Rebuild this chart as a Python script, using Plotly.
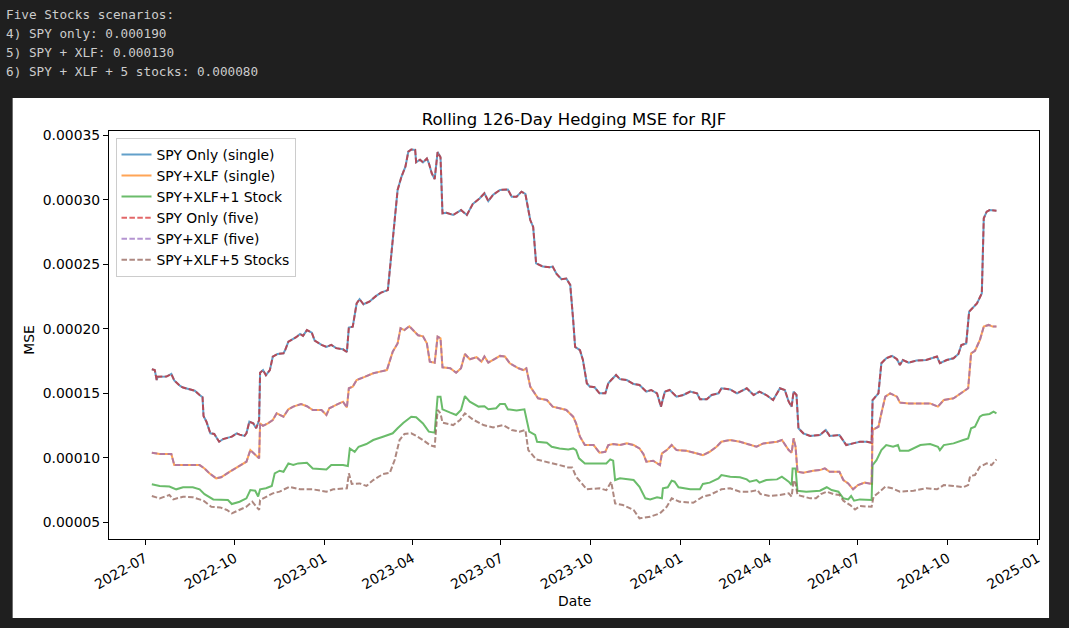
import numpy as np
import plotly.graph_objects as go

# values, in units of 1e-5
spy_dates = [
    "2022-07-08", "2022-07-11", "2022-07-13", "2022-07-14", "2022-07-23", "2022-07-28", "2022-07-31",
    "2022-08-06", "2022-08-09", "2022-08-21", "2022-08-26", "2022-08-29", "2022-08-30", "2022-09-02",
    "2022-09-06", "2022-09-10", "2022-09-15", "2022-09-19", "2022-09-28", "2022-10-03", "2022-10-06",
    "2022-10-11", "2022-10-13", "2022-10-16", "2022-10-20", "2022-10-23", "2022-10-26", "2022-10-27",
    "2022-10-30", "2022-11-02", "2022-11-06", "2022-11-09", "2022-11-14", "2022-11-20", "2022-11-22",
    "2022-11-25", "2022-12-03", "2022-12-07", "2022-12-10", "2022-12-14", "2022-12-19", "2022-12-22",
    "2022-12-29", "2023-01-03", "2023-01-08", "2023-01-13", "2023-01-20", "2023-01-24", "2023-01-26",
    "2023-01-30", "2023-02-03", "2023-02-06", "2023-02-10", "2023-02-16", "2023-02-23", "2023-02-28",
    "2023-03-07", "2023-03-09", "2023-03-12", "2023-03-15", "2023-03-17", "2023-03-21", "2023-03-25",
    "2023-03-28", "2023-03-31", "2023-04-04", "2023-04-05", "2023-04-09", "2023-04-12", "2023-04-16",
    "2023-04-18", "2023-04-21", "2023-04-24", "2023-04-27", "2023-04-30", "2023-05-02", "2023-05-06",
    "2023-05-13", "2023-05-21", "2023-05-27", "2023-06-02", "2023-06-09", "2023-06-14", "2023-06-18",
    "2023-06-23", "2023-06-30", "2023-07-08", "2023-07-12", "2023-07-17", "2023-07-22", "2023-07-26",
    "2023-07-31", "2023-08-03", "2023-08-06", "2023-08-13", "2023-08-20", "2023-08-23", "2023-08-27",
    "2023-09-01", "2023-09-06", "2023-09-10", "2023-09-13", "2023-09-15", "2023-09-20", "2023-09-23",
    "2023-09-27", "2023-09-30", "2023-10-05", "2023-10-10", "2023-10-16", "2023-10-19", "2023-10-22",
    "2023-10-27", "2023-10-31", "2023-11-07", "2023-11-14", "2023-11-20", "2023-11-27", "2023-12-02",
    "2023-12-08", "2023-12-12", "2023-12-16", "2023-12-21", "2023-12-28", "2024-01-04", "2024-01-11",
    "2024-01-18", "2024-01-21", "2024-01-28", "2024-02-02", "2024-02-09", "2024-02-12", "2024-02-21",
    "2024-02-28", "2024-03-09", "2024-03-16", "2024-03-22", "2024-03-29", "2024-04-05", "2024-04-12",
    "2024-04-17", "2024-04-21", "2024-04-24", "2024-04-26", "2024-04-29", "2024-05-01", "2024-05-06",
    "2024-05-13", "2024-05-23", "2024-05-29", "2024-06-02", "2024-06-12", "2024-06-19", "2024-06-26",
    "2024-07-03", "2024-07-10", "2024-07-15", "2024-07-16", "2024-07-22", "2024-07-25", "2024-07-30",
    "2024-08-05", "2024-08-10", "2024-08-13", "2024-08-16", "2024-08-22", "2024-08-30", "2024-09-09",
    "2024-09-20", "2024-09-23", "2024-09-30", "2024-10-07", "2024-10-12", "2024-10-15", "2024-10-20",
    "2024-10-23", "2024-10-26", "2024-10-31", "2024-11-05", "2024-11-07", "2024-11-10", "2024-11-13",
    "2024-11-20",
]
spy_vals = [
    16.86, 16.8, 16.03, 16.29, 16.3, 16.5, 16.0,
    15.57, 15.45, 15.2, 14.87, 14.7, 13.24, 12.8,
    11.9, 11.85, 11.25, 11.45, 11.64, 11.9, 11.8,
    11.7, 11.9, 12.8, 12.67, 12.29, 12.93, 16.6,
    16.8, 16.4, 16.8, 17.84, 18.05, 18.1, 18.4,
    19.0, 19.35, 19.6, 19.45, 19.9, 19.7, 19.08,
    18.75, 18.6, 18.75, 18.5, 18.41, 18.2, 20.1,
    20.17, 21.97, 22.3, 21.9, 22.1, 22.55, 22.8,
    23.0, 24.56, 26.6, 29.08, 30.76, 31.8, 32.57,
    33.73, 33.9, 33.87, 32.9, 33.1, 32.9, 33.2,
    32.85, 32.05, 31.6, 33.7, 33.3, 28.95, 29.0,
    28.82, 29.2, 28.82, 29.67, 30.1, 30.5, 29.9,
    30.4, 30.76, 30.8, 30.24, 30.24, 30.63, 30.45,
    28.43, 27.9, 25.08, 24.82, 24.77, 24.82, 24.25,
    23.84, 23.9, 23.4, 20.68, 18.6, 18.34, 17.58,
    15.78, 15.52, 15.47, 15.0, 15.0, 15.78, 16.03,
    16.42, 16.1, 16.03, 15.72, 15.65, 15.13, 15.26,
    15.0, 13.96, 15.13, 15.26, 14.74, 14.87, 15.13,
    15.0, 14.54, 14.54, 14.87, 15.0, 15.39, 15.3,
    15.0, 15.39, 14.87, 15.13, 14.87, 14.48, 15.39,
    15.26, 14.35, 13.96, 15.13, 14.87, 12.29, 11.9,
    11.7, 11.77, 12.16, 11.7, 11.77, 10.99, 11.12,
    11.25, 11.25, 11.17, 14.48, 15.0, 17.33, 17.72,
    17.9, 17.64, 17.2, 17.58, 17.38, 17.54, 17.58,
    17.85, 17.33, 17.58, 17.72, 18.05, 18.74, 18.87,
    21.33, 21.6, 21.97, 22.75, 28.57, 29.08, 29.2,
    29.15,
]

xlf_dates = [
    "2022-07-08", "2022-07-16", "2022-07-28", "2022-07-31", "2022-08-09", "2022-08-26", "2022-08-31",
    "2022-09-05", "2022-09-12", "2022-09-17", "2022-09-26", "2022-10-03", "2022-10-10", "2022-10-13",
    "2022-10-17", "2022-10-22", "2022-10-26", "2022-10-27", "2022-10-30", "2022-11-04", "2022-11-09",
    "2022-11-13", "2022-11-20", "2022-11-25", "2022-11-30", "2022-12-08", "2022-12-14", "2022-12-20",
    "2022-12-29", "2023-01-03", "2023-01-06", "2023-01-13", "2023-01-20", "2023-01-24", "2023-01-26",
    "2023-01-30", "2023-02-03", "2023-02-10", "2023-02-20", "2023-02-27", "2023-03-06", "2023-03-12",
    "2023-03-17", "2023-03-20", "2023-03-24", "2023-03-29", "2023-04-02", "2023-04-07", "2023-04-12",
    "2023-04-16", "2023-04-19", "2023-04-24", "2023-04-27", "2023-04-30", "2023-05-02", "2023-05-10",
    "2023-05-16", "2023-05-21", "2023-05-25", "2023-05-30", "2023-06-06", "2023-06-11", "2023-06-14",
    "2023-06-18", "2023-06-30", "2023-07-05", "2023-07-10", "2023-07-19", "2023-07-24", "2023-07-27",
    "2023-07-31", "2023-08-05", "2023-08-08", "2023-08-17", "2023-08-23", "2023-08-30", "2023-09-06",
    "2023-09-13", "2023-09-16", "2023-09-20", "2023-09-25", "2023-10-04", "2023-10-10", "2023-10-16",
    "2023-10-19", "2023-10-24", "2023-10-31", "2023-11-07", "2023-11-14", "2023-11-20", "2023-11-24",
    "2023-11-27", "2023-12-04", "2023-12-11", "2023-12-13", "2023-12-18", "2023-12-23", "2023-12-28",
    "2024-01-07", "2024-01-18", "2024-01-24", "2024-01-31", "2024-02-07", "2024-02-12", "2024-02-21",
    "2024-03-02", "2024-03-12", "2024-03-19", "2024-03-26", "2024-04-09", "2024-04-14", "2024-04-21",
    "2024-04-24", "2024-04-26", "2024-04-28", "2024-04-30", "2024-05-06", "2024-05-16", "2024-05-23",
    "2024-05-28", "2024-06-02", "2024-06-12", "2024-06-16", "2024-06-21", "2024-06-26", "2024-07-01",
    "2024-07-08", "2024-07-15", "2024-07-16", "2024-07-22", "2024-07-25", "2024-07-29", "2024-08-03",
    "2024-08-10", "2024-08-13", "2024-08-22", "2024-09-03", "2024-09-13", "2024-09-21", "2024-09-27",
    "2024-10-07", "2024-10-14", "2024-10-19", "2024-10-22", "2024-10-25", "2024-10-29", "2024-11-03",
    "2024-11-07", "2024-11-12", "2024-11-16", "2024-11-20",
]
xlf_vals = [
    10.4, 10.3, 10.3, 9.44, 9.44, 9.44, 9.18,
    8.8, 8.41, 8.49, 8.93, 9.25, 9.57, 9.7,
    10.6, 10.2, 9.96, 12.67, 12.48, 12.67, 12.93,
    13.45, 13.19, 13.76, 13.97, 14.17, 14.0, 13.71,
    13.71, 13.32, 13.84, 14.1, 14.35, 13.9, 15.39,
    15.52, 16.03, 16.24, 16.55, 16.68, 16.8, 18.22,
    18.87, 20.04, 19.9, 20.2, 19.9, 19.5, 19.42,
    18.87, 17.45, 17.37, 19.39, 19.26, 17.02, 16.94,
    16.6, 16.94, 18.05, 17.64, 17.8, 17.45, 17.85,
    17.38, 17.9, 17.85, 17.33, 16.94, 16.8, 16.94,
    15.52, 15.0, 14.61, 14.48, 13.97, 13.84, 13.71,
    13.19, 12.67, 11.64, 10.99, 10.99, 10.4, 10.47,
    10.99, 11.07, 10.99, 11.12, 10.99, 10.73, 10.3,
    9.7, 9.78, 9.44, 10.34, 10.6, 10.99, 10.6,
    10.55, 10.34, 10.21, 10.47, 10.86, 11.25, 11.38,
    11.25, 10.99, 10.86, 11.12, 11.25, 11.38, 10.6,
    10.4, 11.51, 10.86, 8.92, 8.84, 9.0, 9.05,
    9.18, 8.92, 8.92, 8.28, 8.02, 7.56, 7.89,
    8.08, 7.98, 12.16, 12.41, 13.45, 14.74, 15.0,
    14.74, 14.28, 14.22, 14.22, 14.22, 13.97, 14.48,
    14.61, 15.0, 15.26, 15.39, 18.1, 18.3, 19.13,
    20.17, 20.3, 20.17, 20.17,
]

one_dates = [
    "2022-07-08", "2022-07-16", "2022-07-26", "2022-08-02", "2022-08-09", "2022-08-19", "2022-08-26",
    "2022-08-31", "2022-09-09", "2022-09-16", "2022-09-24", "2022-09-28", "2022-10-06", "2022-10-13",
    "2022-10-17", "2022-10-22", "2022-10-25", "2022-10-27", "2022-11-02", "2022-11-08", "2022-11-11",
    "2022-11-16", "2022-11-20", "2022-11-25", "2022-11-30", "2022-12-05", "2022-12-14", "2022-12-20",
    "2022-12-29", "2023-01-03", "2023-01-08", "2023-01-20", "2023-01-25", "2023-01-27", "2023-02-01",
    "2023-02-05", "2023-02-13", "2023-02-20", "2023-03-02", "2023-03-12", "2023-03-17", "2023-03-23",
    "2023-03-31", "2023-04-05", "2023-04-12", "2023-04-18", "2023-04-24", "2023-04-27", "2023-04-30",
    "2023-05-02", "2023-05-10", "2023-05-16", "2023-05-21", "2023-05-25", "2023-05-30", "2023-06-08",
    "2023-06-14", "2023-06-18", "2023-06-26", "2023-06-30", "2023-07-05", "2023-07-08", "2023-07-17",
    "2023-07-25", "2023-07-30", "2023-08-05", "2023-08-07", "2023-08-17", "2023-08-22", "2023-08-30",
    "2023-09-08", "2023-09-13", "2023-09-16", "2023-09-19", "2023-09-25", "2023-10-05", "2023-10-17",
    "2023-10-21", "2023-10-24", "2023-10-26", "2023-10-31", "2023-11-14", "2023-11-20", "2023-11-26",
    "2023-12-01", "2023-12-08", "2023-12-13", "2023-12-14", "2023-12-19", "2023-12-23", "2023-12-26",
    "2023-12-30", "2024-01-11", "2024-01-21", "2024-01-24", "2024-01-31", "2024-02-09", "2024-02-12",
    "2024-02-21", "2024-03-02", "2024-03-09", "2024-03-12", "2024-03-19", "2024-03-22", "2024-03-29",
    "2024-04-09", "2024-04-14", "2024-04-21", "2024-04-24", "2024-04-25", "2024-04-28", "2024-04-30",
    "2024-05-09", "2024-05-23", "2024-05-30", "2024-06-04", "2024-06-11", "2024-06-16", "2024-06-21",
    "2024-06-24", "2024-06-27", "2024-07-03", "2024-07-15", "2024-07-16", "2024-07-20", "2024-07-25",
    "2024-07-30", "2024-08-06", "2024-08-11", "2024-08-13", "2024-08-22", "2024-09-03", "2024-09-13",
    "2024-09-21", "2024-09-23", "2024-09-27", "2024-10-07", "2024-10-17", "2024-10-22", "2024-10-25",
    "2024-10-29", "2024-11-03", "2024-11-06", "2024-11-13", "2024-11-17", "2024-11-20",
]
one_vals = [
    7.95, 7.82, 7.77, 7.56, 7.72, 7.72, 7.56,
    7.19, 6.78, 6.78, 6.73, 6.42, 6.6, 6.86,
    7.5, 7.45, 7.0, 7.56, 7.64, 7.82, 8.8,
    9.0, 8.92, 9.57, 9.44, 9.57, 9.62, 9.18,
    9.1, 9.1, 9.44, 9.44, 9.36, 10.73, 10.47,
    10.86, 11.07, 11.38, 11.64, 11.9, 12.29, 12.72,
    13.19, 13.14, 12.67, 12.03, 11.95, 14.74, 14.74,
    13.76, 13.5, 13.32, 13.71, 14.79, 14.35, 13.97,
    14.0, 13.76, 13.84, 14.17, 14.17, 13.76, 13.66,
    13.76, 12.03, 11.77, 11.25, 11.17, 10.86, 10.73,
    10.65, 10.73, 10.6, 9.96, 9.57, 9.57, 9.57,
    9.88, 9.78, 8.28, 8.41, 8.28, 7.76, 6.86,
    6.78, 6.94, 6.86, 7.64, 7.72, 8.23, 8.15,
    7.72, 7.56, 7.56, 7.98, 8.08, 8.41, 8.67,
    8.54, 8.49, 8.33, 8.15, 8.28, 8.08, 8.28,
    8.33, 8.54, 8.15, 7.89, 9.18, 9.18, 7.45,
    7.38, 7.45, 7.72, 7.5, 7.38, 6.86, 6.78,
    7.04, 6.68, 6.78, 6.73, 9.44, 9.82, 10.6,
    10.99, 10.86, 10.99, 10.55, 10.55, 10.99, 11.07,
    10.86, 10.6, 10.99, 11.12, 11.38, 11.51, 12.29,
    12.41, 13.19, 13.32, 13.4, 13.58, 13.45,
]

five_dates = [
    "2022-07-08", "2022-07-16", "2022-07-26", "2022-07-30", "2022-08-09", "2022-08-19", "2022-08-30",
    "2022-09-07", "2022-09-16", "2022-09-23", "2022-09-28", "2022-10-06", "2022-10-13", "2022-10-19",
    "2022-10-23", "2022-10-26", "2022-10-27", "2022-11-02", "2022-11-09", "2022-11-16", "2022-11-26",
    "2022-12-07", "2022-12-20", "2023-01-03", "2023-01-10", "2023-01-24", "2023-01-26", "2023-01-29",
    "2023-02-06", "2023-02-13", "2023-02-20", "2023-03-02", "2023-03-09", "2023-03-14", "2023-03-19",
    "2023-03-24", "2023-03-31", "2023-04-05", "2023-04-12", "2023-04-19", "2023-04-24", "2023-04-27",
    "2023-04-30", "2023-05-02", "2023-05-13", "2023-05-20", "2023-05-25", "2023-06-02", "2023-06-13",
    "2023-06-23", "2023-07-03", "2023-07-12", "2023-07-20", "2023-07-26", "2023-07-29", "2023-08-06",
    "2023-08-17", "2023-08-30", "2023-09-08", "2023-09-12", "2023-09-16", "2023-09-22", "2023-09-27",
    "2023-10-10", "2023-10-17", "2023-10-22", "2023-10-26", "2023-11-03", "2023-11-14", "2023-11-20",
    "2023-12-01", "2023-12-11", "2023-12-18", "2023-12-23", "2023-12-31", "2024-01-14", "2024-01-24",
    "2024-01-31", "2024-02-09", "2024-02-12", "2024-02-21", "2024-03-02", "2024-03-12", "2024-03-20",
    "2024-03-23", "2024-04-02", "2024-04-12", "2024-04-21", "2024-04-24", "2024-04-26", "2024-04-28",
    "2024-04-30", "2024-05-13", "2024-05-19", "2024-05-24", "2024-05-30", "2024-06-06", "2024-06-12",
    "2024-06-16", "2024-06-23", "2024-06-28", "2024-07-03", "2024-07-15", "2024-07-17", "2024-07-22",
    "2024-07-29", "2024-08-05", "2024-08-13", "2024-08-27", "2024-09-09", "2024-09-20", "2024-09-27",
    "2024-10-07", "2024-10-17", "2024-10-22", "2024-10-24", "2024-10-29", "2024-11-03", "2024-11-10",
    "2024-11-15", "2024-11-20",
]
five_vals = [
    7.04, 6.86, 7.12, 6.78, 6.99, 6.94, 6.68,
    6.21, 6.16, 5.96, 5.7, 5.96, 6.21, 6.6,
    6.21, 5.96, 6.73, 6.99, 7.25, 7.38, 7.76,
    7.56, 7.56, 7.38, 7.56, 7.64, 8.8, 7.98,
    8.02, 7.82, 8.28, 8.74, 8.84, 9.83, 11.38,
    11.85, 11.9, 11.7, 11.38, 10.99, 10.86, 13.71,
    13.45, 12.72, 12.54, 12.93, 13.45, 12.98, 12.54,
    12.36, 12.54, 12.16, 12.03, 12.16, 10.6, 9.88,
    9.7, 9.44, 9.25, 9.25, 8.54, 8.02, 7.56,
    7.64, 7.5, 8.15, 6.47, 6.34, 5.96, 5.31,
    5.44, 5.7, 6.21, 6.86, 6.6, 6.52, 6.99,
    7.12, 7.5, 7.56, 7.64, 7.38, 7.38, 7.5,
    7.19, 7.04, 7.12, 7.25, 6.99, 8.28, 8.02,
    7.12, 6.86, 6.86, 7.19, 7.38, 7.19, 7.12,
    6.68, 6.34, 6.0, 6.26, 6.21, 6.99, 7.3,
    7.76, 7.64, 7.38, 7.45, 7.64, 7.56, 7.89,
    7.82, 7.72, 7.89, 8.59, 8.67, 9.31, 9.57,
    9.44, 9.88,
]

summary_lines = [
    "Five Stocks scenarios:",
    "4) SPY only: 0.000190",
    "5) SPY + XLF: 0.000130",
    "6) SPY + XLF + 5 stocks: 0.000080",
]

series = [
    ("SPY Only (single)", spy_dates, spy_vals, "#1f77b4", "solid"),
    ("SPY+XLF (single)", xlf_dates, xlf_vals, "#ff7f0e", "solid"),
    ("SPY+XLF+1 Stock", one_dates, one_vals, "#2ca02c", "solid"),
    ("SPY Only (five)", spy_dates, spy_vals, "#d62728", "5.5px,2.4px"),
    ("SPY+XLF (five)", xlf_dates, xlf_vals, "#9467bd", "5.5px,2.4px"),
    ("SPY+XLF+5 Stocks", five_dates, five_vals, "#8c564b", "5.5px,2.4px"),
]

font = "DejaVu Sans, Liberation Sans, sans-serif"

fig = go.Figure()
for name, d, v, color, dash in series:
    fig.add_trace(go.Scatter(
        x=d, y=np.array(v) * 1e-5, mode="lines", name=name, opacity=0.7,
        line=dict(color=color, width=2, dash=dash),
    ))

# white panel behind the chart, like the notebook output cell
fig.add_shape(type="rect", xref="paper", yref="paper",
              x0=-0.1036, x1=1.0108, y0=-0.1936, y1=1.0809,
              fillcolor="white", line=dict(width=0), layer="below")

line_y = [1.286, 1.240, 1.1935, 1.147]
for txt, yy in zip(summary_lines, line_y):
    fig.add_annotation(text=txt, xref="paper", yref="paper", x=-0.1125, y=yy,
                       xanchor="left", yanchor="middle", showarrow=False,
                       font=dict(family="DejaVu Sans Mono, monospace", size=12.7, color="#cccccc"))

# axis titles placed like the matplotlib output
fig.add_annotation(text="Date", xref="paper", yref="paper", x=0.5, y=-0.152,
                   xanchor="center", yanchor="middle", showarrow=False,
                   font=dict(size=13.9, color="black"))
fig.add_annotation(text="MSE", xref="paper", yref="paper", x=-0.0862, y=0.488,
                   xanchor="center", yanchor="middle", showarrow=False, textangle=-90,
                   font=dict(size=13.9, color="black"))

fig.update_layout(
    width=1069, height=628,
    margin=dict(l=109, r=30, t=131, b=89),
    paper_bgcolor="#1f1f1f", plot_bgcolor="white",
    font=dict(family=font, size=13.9, color="black"),
    title=dict(text="Rolling 126-Day Hedging MSE for RJF", x=0.5, xref="paper",
               y=1 - 119 / 628, yanchor="middle", font=dict(size=16.5, color="black")),
    showlegend=True,
    legend=dict(x=0.007, y=0.983, xanchor="left", yanchor="top",
                bgcolor="rgba(255,255,255,0.8)", bordercolor="#cccccc", borderwidth=1,
                font=dict(size=13.9, color="black")),
)
fig.update_xaxes(
    type="date", range=["2022-05-25 02:00", "2025-01-02 15:00"],
    tick0="2022-07-01", dtick="M3", tickformat="%Y-%m", tickangle=-30,
    ticks="outside", ticklen=5, tickcolor="black", showgrid=False, zeroline=False,
    showline=True, linecolor="black", linewidth=1, mirror=True,
)
fig.update_yaxes(
    range=[3.71e-5, 35.33e-5], tickvals=[5e-5, 10e-5, 15e-5, 20e-5, 25e-5, 30e-5, 35e-5],
    tickformat=".5f", ticks="outside", ticklen=5, tickcolor="black", showgrid=False,
    zeroline=False, showline=True, linecolor="black", linewidth=1, mirror=True,
)

fig.write_html("out.html", config={"displayModeBar": False},
               post_script="document.body.style.margin='0';document.body.style.background='#1f1f1f';")
